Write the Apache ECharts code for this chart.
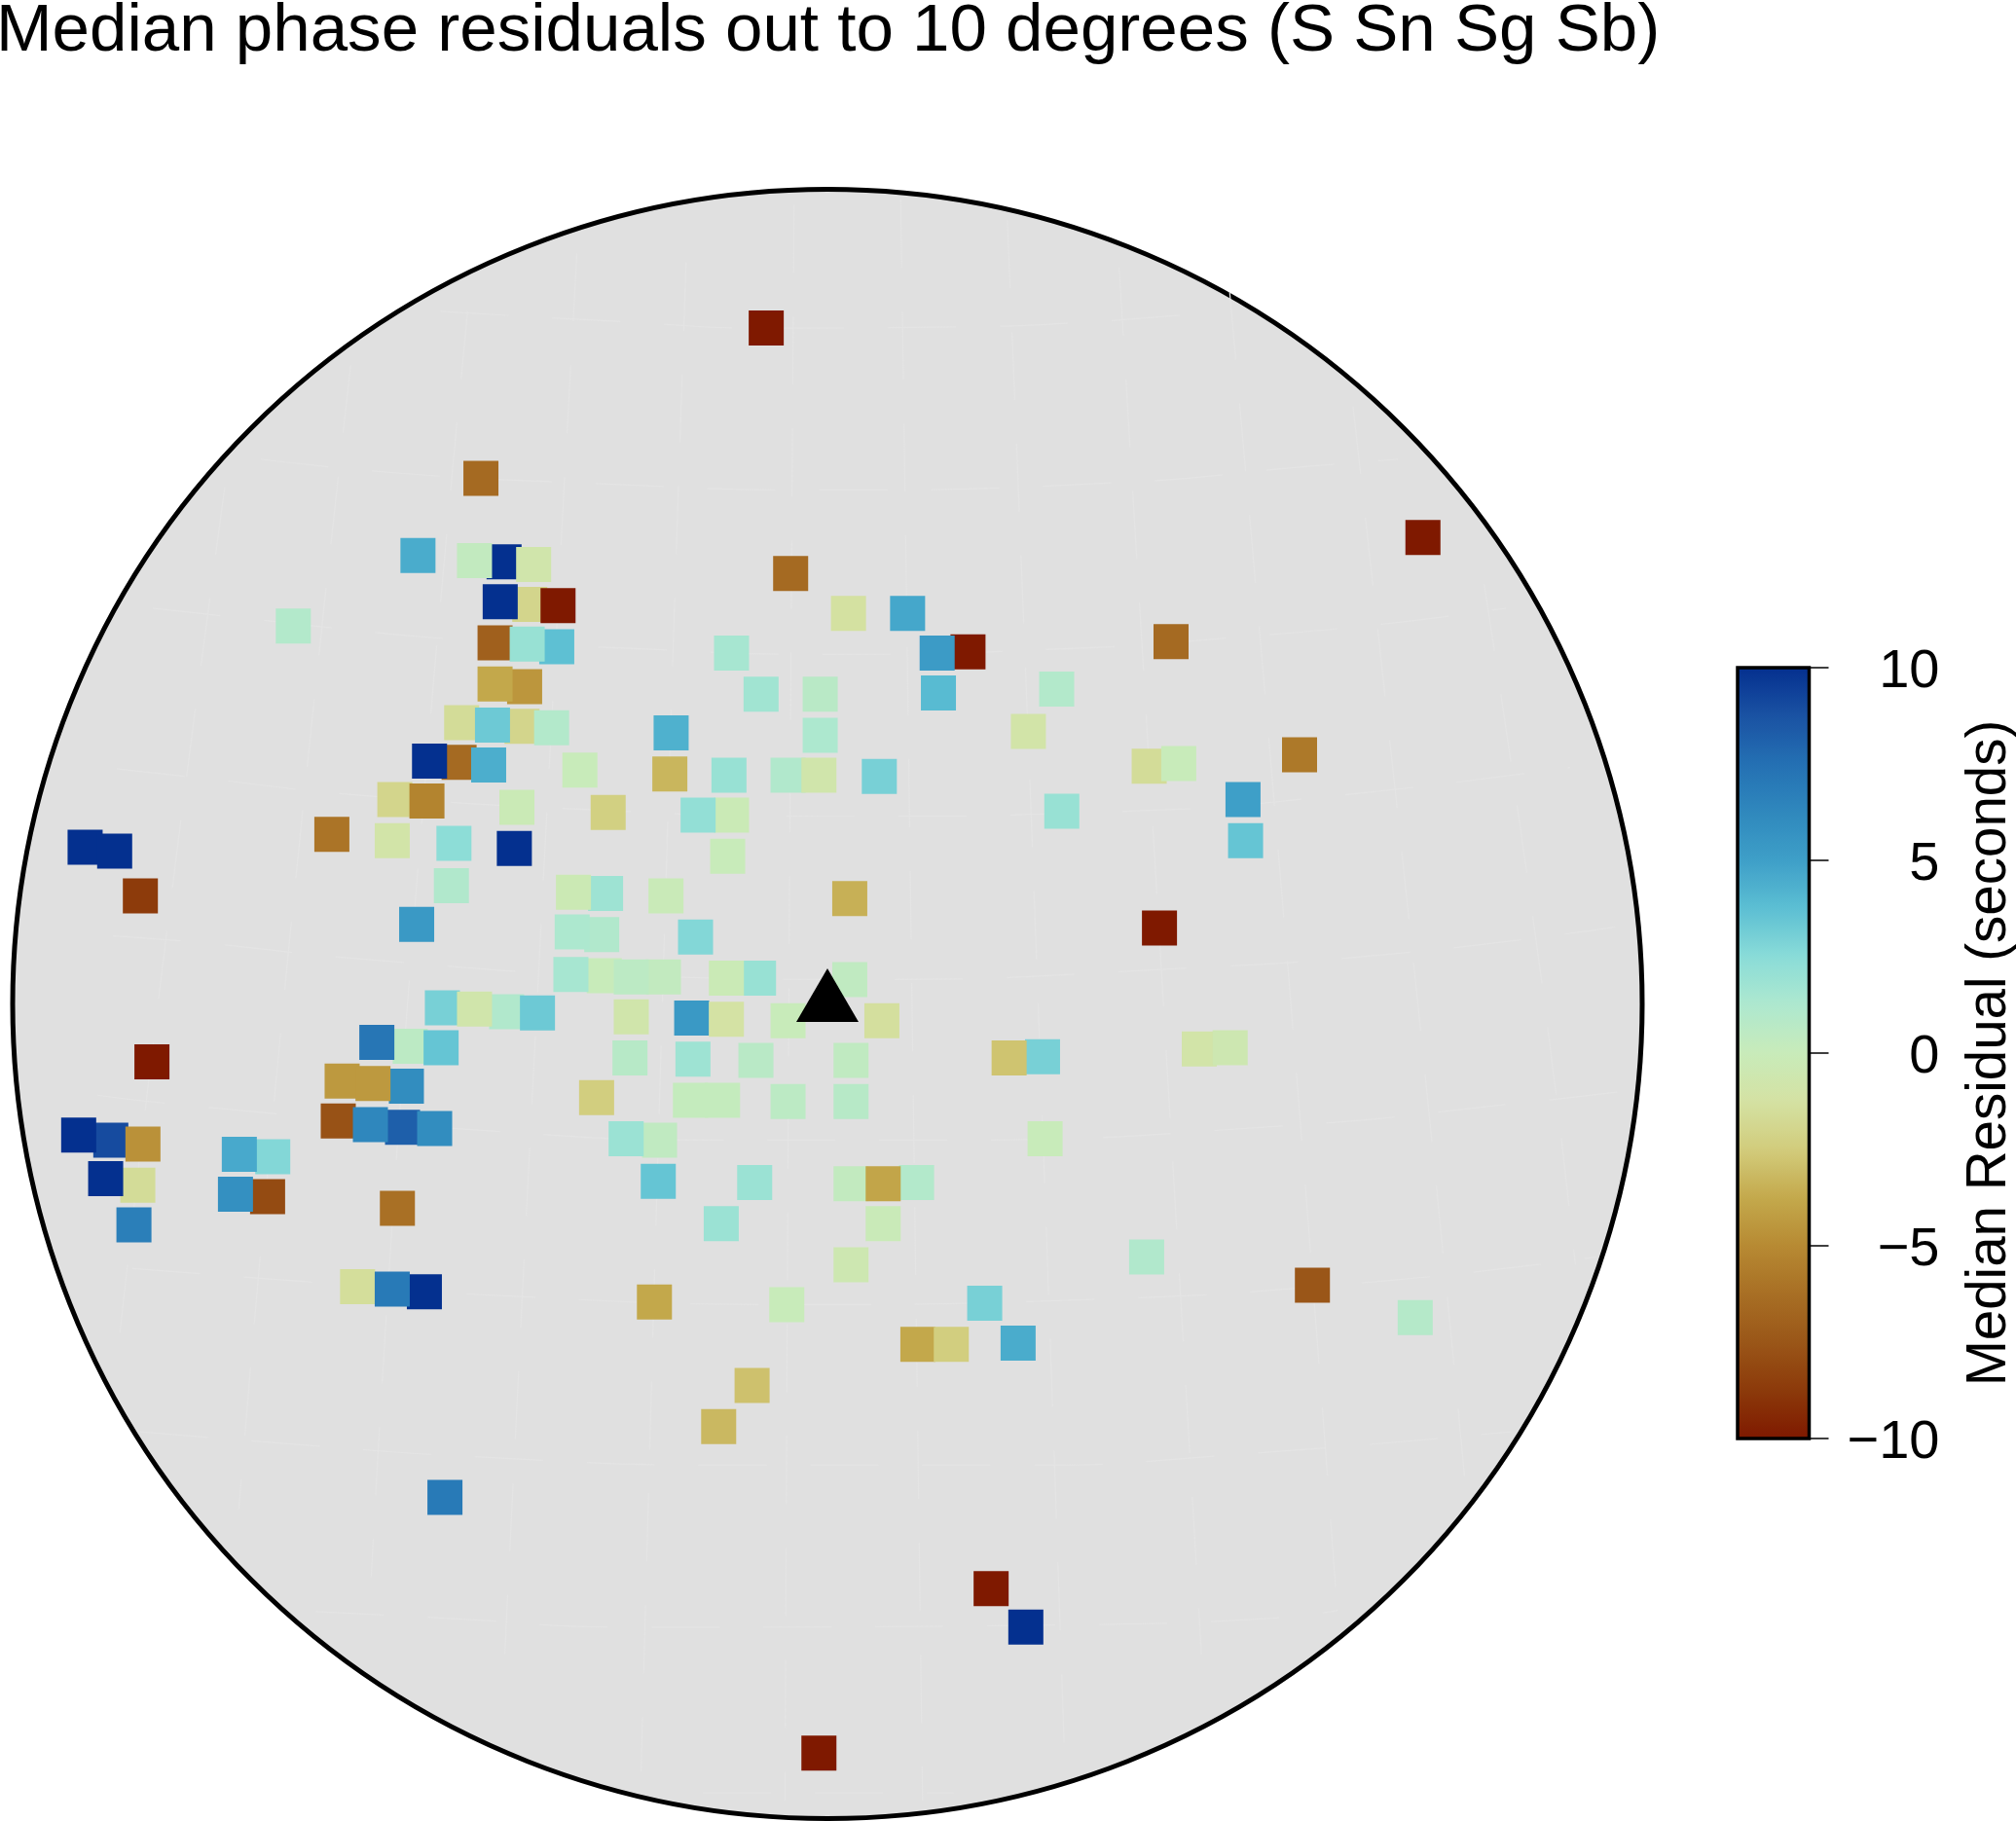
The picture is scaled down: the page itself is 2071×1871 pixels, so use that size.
<!DOCTYPE html>
<html><head><meta charset="utf-8">
<style>html,body{margin:0;padding:0;background:#fff}#c{width:2071px;height:1871px}</style>
<script src="https://cdn.jsdelivr.net/npm/echarts@6/dist/echarts.min.js"></script></head>
<body><div id="c"></div><script>
const titleText='Median phase residuals out to 10 degrees (S Sn Sg Sb)';
const barName='Median Residual (seconds)';
const colorStops=['#7F1900','#8C3A0A','#9A5618','#A86F24','#B78A33','#C4A94C','#D2CC7C','#D4E2A3','#C8EBBA','#AEE8CF','#8ADCD8','#5CBFD3','#3E9FC8','#2F88BD','#2470B3','#1A52A3','#04308F'];
const east=[-48,-270,463,-319,-252,-275,-229,-29,16,62,-232,-255,-210,-416,-259,-211,-234,267,109,85,-75,-236,-259,-52,-6,86,178,-285,-238,-261,-215,-122,-6,156,-287,-310,-264,-193,-123,-77,-31,-7,40,250,273,367,323,-337,-312,-242,-171,-75,-101,182,-386,-339,-291,-244,-78,-578,-555,325,-293,-173,-198,-126,-535,17,-320,-176,-199,-103,258,-174,-200,-128,-153,-54,-79,17,-300,-250,-275,-226,-153,-106,-79,-31,42,-325,-351,-301,-526,167,141,-154,-105,-56,18,289,313,-328,-378,-354,-180,-107,-82,-31,18,-381,-331,-356,-306,-131,-157,169,-558,-583,-533,-432,-458,-537,-562,-132,-57,18,69,43,-436,-461,-540,-335,-83,43,18,248,-366,-314,-339,-135,-32,122,377,457,70,96,148,-59,-85,-298,127,154,-7];
const north=[526,409,363,349,344,345,342,335,304,304,311,313,310,294,281,278,280,282,274,273,273,247,249,241,241,242,245,219,216,217,215,211,209,212,188,189,186,182,179,178,178,178,177,185,187,194,159,159,158,153,149,147,147,150,132,127,125,121,115,122,119,127,92,86,87,84,84,82,62,54,56,52,59,22,23,21,21,20,20,19,-3,-6,-4,-7,-10,-11,-12,-13,-13,-33,-30,-34,-45,-41,-42,-42,-43,-44,-44,-35,-34,-64,-60,-62,-73,-75,-75,-76,-76,-91,-96,-94,-97,-106,-105,-105,-106,-102,-109,-119,-117,-141,-136,-138,-139,-140,-139,-140,-150,-148,-172,-159,-171,-171,-203,-197,-220,-224,-222,-232,-234,-233,-219,-244,-265,-265,-264,-297,-329,-384,-455,-485,-583];
const residual=[-10,-6.5,-10,4.5,10,0.3,-0.8,-6.5,-1.3,4.7,-2,10,-10,1,-7,3.7,2,-6.5,-10,5.2,1.5,-4.5,-3.8,1.7,0.7,3.9,1,-1.6,-2,3.3,1,4.3,1.3,-1,-6.5,10,4.4,0,-3.3,2,1.1,-0.8,3,-1.6,0,-5.8,5,-2,-5.3,-0.2,-2.3,-0.2,2.2,2,-6,-1,2.4,10,0,10,10,3.5,1.1,1.8,-0.3,-0.1,-8.7,-3.5,5.3,1.1,1.3,2.7,-10,0,1.5,0.3,0.6,2,-0.2,0.4,3,1.1,-0.8,3.3,-0.8,5.3,-1.2,0,-1.4,0.6,7.2,3.5,-10,3,-2.8,0.8,1.8,0.7,0.4,-1,-0.5,6,-4.4,-4.4,-2.4,0.2,0.2,0.6,0.8,-7.7,8.2,6.3,6,0.4,1.9,0,9,10,-4.7,2.7,4.6,-1.6,10,3.5,1.9,0.3,1,-3.9,-8,5.8,6.7,-6.2,1.9,-0.1,-0.5,1.1,-1.5,10,7,-3.8,0,3,-7.5,0.9,-3.8,-2.4,4.5,-2.9,-3.2,7,-10,10,-10];
const meridians=[
 [[57,626],[64,137],[74,-620]],[[140,610],[161,81],[185,-601]],[[227,573],[260,24],[291,-506]],
 [[313,554],[359,20],[397,-476]],[[409,465],[459,4],[496,-370]],[[511,327],[556,16],[582,-203]],
 [[-26,622],[-30,1],[-33,-620]],[[-110,577],[-126,84],[-145,-597]],[[-195,584],[-224,39],[-251,-506]],
 [[-280,539],[-325,24],[-355,-446]],[[-371,497],[-421,24],[-458,-393]],[[-469,402],[-519,16],[-553,-279]]];
const parallels=[
 [[-301,539],[-159,531],[-53,526],[104,527],[192,530],[308,539]],
 [[-441,424],[-332,413],[-204,406],[0,400],[231,406],[370,418],[444,424]],
 [[-525,308],[-452,300],[-294,284],[-159,277],[0,272],[198,277],[314,285],[435,296],[528,308]],
 [[-553,183],[-471,174],[-371,163],[-201,152],[0,146],[235,150],[386,161],[578,184]],
 [[-556,53],[-491,48],[-351,34],[-159,22],[38,19],[262,27],[451,40],[613,60]],
 [[-568,-71],[-498,-79],[-274,-98],[-85,-106],[84,-106],[354,-95],[540,-77],[628,-67]],
 [[-541,-206],[-407,-216],[-255,-227],[-27,-234],[204,-230],[428,-216],[598,-197]],
 [[-535,-333],[-410,-343],[-282,-352],[-71,-359],[155,-359],[314,-351],[532,-333]],
 [[-398,-473],[-298,-478],[-153,-485],[206,-483],[347,-478],[397,-472]],
 [[-97,-614],[98,-614]]];
const extent=634;
const font='"Liberation Sans"';
const chart=echarts.init(document.getElementById('c'),null,{renderer:'canvas'});
const graticuleSeries=meridians.concat(parallels).map(pts=>({type:'line',xAxisIndex:0,yAxisIndex:0,z:1,silent:true,
  smooth:true,showSymbol:false,symbol:'none',data:pts,lineStyle:{color:'#E4E4E4',width:1.2,type:[70,45]}}));
chart.setOption({
  animation:false,backgroundColor:'#fff',
  title:{text:titleText,left:-9,top:-7,textStyle:{fontFamily:font,fontSize:69.1,fontWeight:'normal',color:'#000'}},
  grid:[{left:13,top:194.5,width:1674,height:1674,outerBoundsMode:'none'},{left:1785,top:686,width:73.5,height:792,outerBoundsMode:'none'}],
  xAxis:[{type:'value',gridIndex:0,min:-extent,max:extent,show:false},{type:'value',gridIndex:1,min:0,max:1,show:false}],
  yAxis:[{type:'value',gridIndex:0,min:-extent,max:extent,show:false},
    {type:'value',gridIndex:1,min:-10,max:10,interval:5,position:'right',
     axisLine:{show:false,onZero:false},splitLine:{show:false},
     axisTick:{show:true,length:20,lineStyle:{color:'#000',width:1.5}},
     axisLabel:{align:'right',verticalAlign:'top',lineHeight:10,margin:134,fontFamily:font,fontSize:56,color:'#000',formatter:v=>String(v).replace('-','\u2212')},
     name:barName,nameLocation:'middle',nameRotate:90,nameGap:157,nameTextStyle:{fontFamily:font,fontSize:56.5,color:'#000'}}],
  visualMap:{type:'continuous',min:-10,max:10,seriesIndex:1,dimension:2,calculable:false,realtime:false,padding:0,
    inRange:{color:colorStops},text:null,left:1785,top:686,itemWidth:73.5,itemHeight:792,showLabel:false,hoverLink:false},
  series:[
   {type:'custom',xAxisIndex:0,yAxisIndex:0,z:0,clip:false,silent:true,data:[[0,0]],
    renderItem:(p,api)=>{const c=api.coord([0,0]);const r=api.size([extent,0])[0];
      return {type:'circle',shape:{cx:c[0],cy:c[1],r:r},style:{fill:'#E0E0E0',stroke:'#000',lineWidth:5}};}},
   {type:'scatter',xAxisIndex:0,yAxisIndex:0,z:2,symbol:'rect',symbolSize:36,symbolOffset:[0.5,0],silent:true,
    itemStyle:{opacity:1},data:east.map((e,i)=>[e,north[i],residual[i]])},
   {type:'scatter',xAxisIndex:0,yAxisIndex:0,z:3,symbol:'triangle',symbolSize:[64,55],symbolOffset:[0,-9],silent:true,
    itemStyle:{color:'#000',opacity:1},data:[[0,0]]},
   {type:'custom',xAxisIndex:1,yAxisIndex:1,z:10,silent:true,clip:false,data:[[0,-10]],
    renderItem:(p,api)=>{const a=api.coord([0,-10]),b=api.coord([1,10]);
      return {type:'rect',shape:{x:a[0],y:b[1],width:b[0]-a[0],height:a[1]-b[1]},style:{fill:null,stroke:'#000',lineWidth:3.5}};}}
  ].concat(graticuleSeries)
});
</script></body></html>
